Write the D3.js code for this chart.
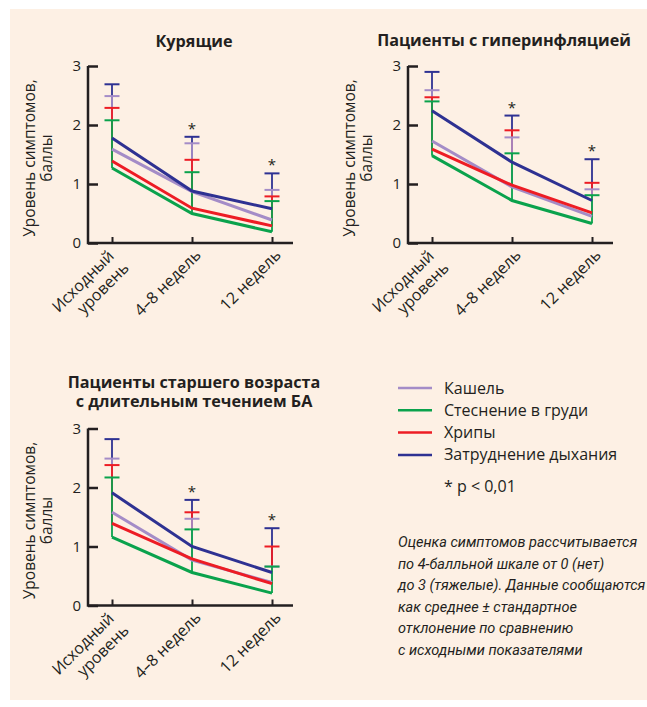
<!DOCTYPE html>
<html><head><meta charset="utf-8">
<script src="https://cdn.jsdelivr.net/npm/d3@7"></script>
<style>
html,body{margin:0;padding:0;background:#fff;}
text{font-family:"Open Sans",sans-serif;fill:#231f20;}
text.note{font-family:Roboto,sans-serif;font-style:italic;}
</style></head>
<body>
<svg id="chart" width="647" height="707"></svg>
<script>
// ---- data ----
const categories = [["Исходный","уровень"], ["4–8 недель"], ["12 недель"]];
const seriesNames = ["Кашель", "Стеснение в груди", "Хрипы", "Затруднение дыхания"];
const seriesColors = ["#a48cc7", "#0aa24c", "#ed1c24", "#2e3192"];
const yTicks = [0, 1, 2, 3];

const titleSmokers = ["Курящие"];
const titleHyper = ["Пациенты с гиперинфляцией"];
const titleElderly = ["Пациенты старшего возраста", "с длительным течением БА"];

// means per series (cough, chest tightness, wheeze, dyspnea)
const smokersMean = [[1.59, 0.87, 0.39], [1.27, 0.50, 0.19], [1.39, 0.59, 0.29], [1.78, 0.88, 0.58]];
const smokersSD   = [[0.90, 0.82, 0.51], [0.81, 0.70, 0.52], [0.90, 0.82, 0.50], [0.91, 0.92, 0.60]];
const hyperMean   = [[1.73, 0.95, 0.45], [1.48, 0.72, 0.33], [1.59, 0.98, 0.51], [2.24, 1.37, 0.72]];
const hyperSD     = [[0.86, 0.84, 0.46], [0.92, 0.80, 0.48], [0.88, 0.93, 0.51], [0.66, 0.79, 0.70]];
const elderlyMean = [[1.58, 0.77, 0.39], [1.16, 0.56, 0.21], [1.39, 0.79, 0.37], [1.91, 1.00, 0.56]];
const elderlySD   = [[0.91, 0.70, 0.27], [1.01, 0.73, 0.45], [0.99, 0.79, 0.63], [0.91, 0.79, 0.75]];
const significant = [false, true, true];

const yLabel = ["Уровень симптомов,", "баллы"];
const pNote = "* p < 0,01";
const footnote = ["Оценка симптомов рассчитывается", "по 4-балльной шкале от 0 (нет)",
  "до 3 (тяжелые). Данные сообщаются", "как среднее ± стандартное",
  "отклонение по сравнению", "с исходными показателями"];

// ---- drawing ----
const svg = d3.select("#chart");
svg.append("rect").attr("x", 10).attr("y", 9).attr("width", 637).attr("height", 691).attr("fill", "#fdf0e4");

const INK = "#231f20";

function panel(opt) {
  const {ax, y0, title, titleX, titleY, means, sds} = opt;
  const g = svg.append("g");
  const y = d3.scaleLinear().domain([0, 3]).range([y0, y0 - 177]);
  const x = d3.scalePoint().domain(d3.range(categories.length)).range([ax + 24, ax + 184]);

  // title (one text per line)
  title.forEach((s, i) => g.append("text").attr("text-anchor", "middle").attr("font-weight", 700)
    .attr("font-size", 16.2).attr("x", titleX).attr("y", titleY + i * 18.5).text(s));

  // y label
  const yl = g.append("text").attr("text-anchor", "middle").attr("font-size", 15.5)
    .attr("transform", `translate(${ax - 53},${y0 - 85}) rotate(-90)`);
  yLabel.forEach((s, i) => yl.append("tspan").attr("x", 0).attr("dy", i ? 17 : 0).text(s));

  // y axis
  const yAxis = d3.axisLeft(y).tickValues(yTicks).tickSize(-10).tickPadding(7).tickFormat(d3.format("d"));
  const ya = g.append("g").attr("transform", `translate(${ax},0)`).call(yAxis);
  ya.select(".domain").remove();
  ya.selectAll(".tick line").attr("stroke", INK).attr("stroke-width", 2.5);
  ya.selectAll(".tick text").attr("font-size", 15).attr("fill", INK);

  // x axis ticks
  const xAxis = d3.axisBottom(x).tickSize(-6).tickFormat("");
  const xa = g.append("g").attr("transform", `translate(0,${y0})`).call(xAxis);
  xa.select(".domain").remove();
  xa.selectAll(".tick line").attr("stroke", INK).attr("stroke-width", 2);

  // axis lines
  g.append("path").attr("d", `M${ax},${y(3)}V${y0}H${ax + 205}`)
    .attr("fill", "none").attr("stroke", INK).attr("stroke-width", 2.5);

  // x labels
  categories.forEach((lines, i) => {
    const multi = lines.length > 1;
    const tx = x(i) + (multi ? 3 : 10), ty = y0 + (multi ? 14 : 13);
    const lt = g.append("text").attr("text-anchor", "end").attr("font-size", 16)
      .attr("transform", `translate(${tx},${ty}) rotate(-45)`);
    lines.forEach((s, j) => lt.append("tspan").attr("x", j ? 2 : 0).attr("dy", j ? 19 : 0).text(s));
  });

  // error bars: draw longest first so shorter sit on top
  categories.forEach((c, i) => {
    const bars = means.map((m, s) => ({s, m: m[i], top: m[i] + sds[s][i]}))
      .sort((a, b) => b.top - a.top);
    bars.forEach(b => {
      const col = seriesColors[b.s];
      g.append("line").attr("x1", x(i)).attr("x2", x(i)).attr("y1", y(b.m)).attr("y2", y(b.top))
        .attr("stroke", col).attr("stroke-width", 1.8);
      g.append("line").attr("x1", x(i) - 7.5).attr("x2", x(i) + 7.5).attr("y1", y(b.top)).attr("y2", y(b.top))
        .attr("stroke", col).attr("stroke-width", 2);
    });
    if (significant[i]) {
      const maxTop = d3.max(bars, b => b.top);
      g.append("text").attr("text-anchor", "middle").attr("font-size", 15)
        .attr("x", x(i)).attr("y", y(maxTop) - 3).text("*");
    }
  });

  // series lines
  const line = d3.line().x((d, i) => x(i)).y(d => y(d));
  means.forEach((m, s) => {
    g.append("path").attr("d", line(m)).attr("fill", "none")
      .attr("stroke", seriesColors[s]).attr("stroke-width", 3).attr("stroke-linejoin", "miter");
  });
}

panel({ax: 88, y0: 243, title: titleSmokers, titleX: 194, titleY: 47, means: smokersMean, sds: smokersSD});
panel({ax: 408, y0: 243, title: titleHyper, titleX: 504, titleY: 46, means: hyperMean, sds: hyperSD});
panel({ax: 88, y0: 605.5, title: titleElderly, titleX: 194, titleY: 388, means: elderlyMean, sds: elderlySD});

// legend
const lg = svg.append("g");
seriesNames.forEach((n, i) => {
  const yy = 388 + i * 22.3;
  lg.append("line").attr("x1", 398).attr("x2", 432).attr("y1", yy).attr("y2", yy)
    .attr("stroke", seriesColors[i]).attr("stroke-width", 2.5);
  lg.append("text").attr("x", 444).attr("y", yy + 5.5).attr("font-size", 16).text(n);
});
lg.append("text").attr("x", 444).attr("y", 492).attr("font-size", 16).text(pNote);

// footnote
footnote.forEach((s, i) => svg.append("text").attr("class", "note").attr("font-size", 14.5)
  .attr("x", 398).attr("y", 547 + i * 21.6).text(s));
</script>
</body></html>
